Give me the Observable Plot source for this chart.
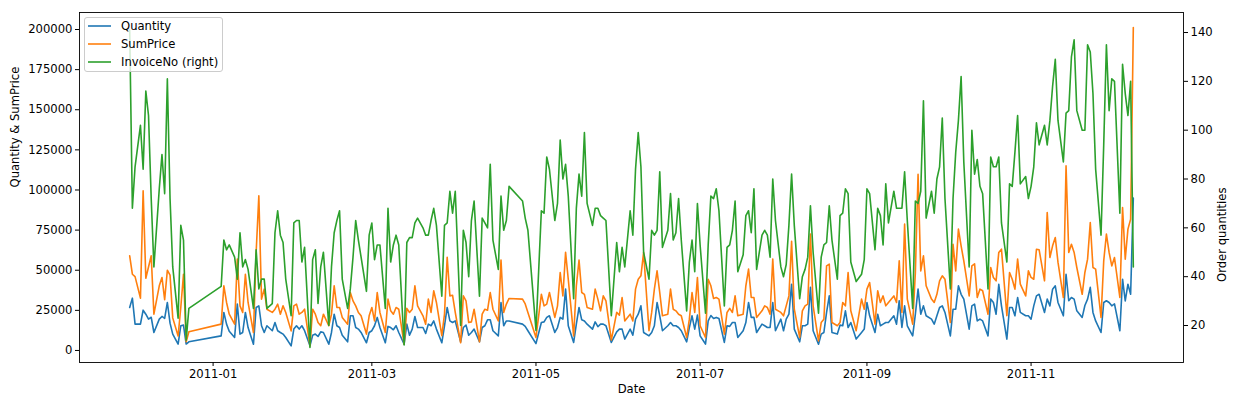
<!DOCTYPE html>
<html><head><meta charset="utf-8">
<script src="https://cdn.jsdelivr.net/npm/d3@7"></script>
<script src="https://cdn.jsdelivr.net/npm/@observablehq/plot@0.6"></script>
<style>
html,body{margin:0;padding:0;background:#fff;}
#chart svg{display:block;}
</style></head><body><div id="chart"></div>
<script>
// Trading days (categories)
const tradingDays = [
  ["2010-12",[1,2,3,5,6,7,8,9,10,12,13,14,15,16,17,19,20,21,22,23]],
  ["2011-01",[4,5,6,7,9,10,11,12,13,14,16,17,18,19,20,21,23,24,25,26,27,28,30,31]],
  ["2011-02",[1,2,3,4,6,7,8,9,10,11,13,14,15,16,17,18,20,21,22,23,24,25,27,28]],
  ["2011-03",[1,2,3,4,6,7,8,9,10,11,13,14,15,16,17,18,20,21,22,23,24,25,27,28,29,30,31]],
  ["2011-04",[1,3,4,5,6,7,8,10,11,12,13,14,15,17,18,19,20,21,26,27,28]],
  ["2011-05",[1,3,4,5,6,8,9,10,11,12,13,15,16,17,18,19,20,22,23,24,25,26,27,29,31]],
  ["2011-06",[1,2,3,5,6,7,8,9,10,12,13,14,15,16,17,19,20,21,22,23,24,26,27,28,29,30]],
  ["2011-07",[1,3,4,5,6,7,8,10,11,12,13,14,15,17,18,19,20,21,22,24,25,26,27,28,29,31]],
  ["2011-08",[1,2,3,4,5,7,8,9,10,11,12,14,15,16,17,18,19,21,22,23,24,25,26,28,30,31]],
  ["2011-09",[1,2,4,5,6,7,8,9,11,12,13,14,15,16,18,19,20,21,22,23,25,26,27,28,29,30]],
  ["2011-10",[2,3,4,5,6,7,9,10,11,12,13,14,16,17,18,19,20,21,23,24,25,26,27,28,30,31]],
  ["2011-11",[1,2,3,4,6,7,8,9,10,11,13,14,15,16,17,18,20,21,22,23,24,25,27,28,29,30]],
  ["2011-12",[1,2,4,5,6,7,8,9]]
];

const quantity = [
26800,32600,16400,16400,25100,22600,19500,20700,11200,19500,21200,20000,29900,17000,10200,4000,15400,15800,4000,5400,
9100,23700,16400,12000,8100,28900,10200,11200,23700,14300,3900,26800,27800,15400,11200,15400,12300,17400,12300,11200,10200,8100,2900,13300,
15400,13300,15400,12300,2900,9500,10200,8700,11600,11200,3900,11200,22600,15400,14300,9500,5400,21600,21600,14300,13300,11200,4800,11200,
12300,15400,20600,14300,4800,15000,14300,12900,15400,11200,3900,16400,9500,13300,21200,14300,14300,10600,16400,15400,18400,13300,4800,15400,26800,18400,17400,
18400,5400,14300,15800,9500,11200,13300,5400,14300,15400,19100,19100,12300,9100,29900,15400,18400,18400,16400,15000,12300,
4300,17400,17800,20600,21600,11200,14300,20600,19500,38200,15400,5000,16400,26800,19100,18400,16400,13300,17800,14800,16400,16400,15400,5000,11600,
13300,13300,7100,13300,9500,19500,22600,27800,11200,9100,11200,15400,29900,21600,12300,15400,17400,15400,15400,14300,12300,5400,14300,21600,13300,22000,
9100,4000,18400,21800,19900,20600,19900,5000,15400,15000,17400,17400,8100,12300,17400,29900,20600,20600,11200,16400,15400,14300,14300,29900,12300,19500,
12300,19500,22600,41300,13300,5400,15400,15400,16400,39300,12300,3900,10200,11200,23700,34000,11200,10200,15800,15400,24700,14300,17400,7100,11200,13300,
29900,21600,11200,22600,15400,16400,17400,17400,21600,16400,31000,14300,27800,15400,9100,22600,38200,22600,27800,21600,19500,16400,21600,26800,27800,23700,
9100,25700,25700,40300,35000,32000,13300,27800,28900,18400,19500,18400,9100,32000,29900,22600,41200,27800,7100,26800,26800,21600,33000,23700,21600,21600,
19500,27800,34000,35000,23700,32000,27800,38200,40300,29900,21600,47500,31000,33000,32000,24700,20600,28000,32000,39300,23700,18400,11200,29900,31000,29900,
27800,29000,12300,44400,30900,41300,35000,94900];

const sumPrice = [
59000,47500,46000,32600,99500,45000,52000,59000,22600,40300,45500,31700,50000,47000,20300,9000,26900,47500,5400,11700,
16400,40300,29900,22600,16400,56900,27800,23700,47500,29900,11200,61000,96400,32000,38200,25700,23700,25700,28900,22600,27800,23700,12200,27800,
28900,22600,23700,25700,2900,25700,22600,17400,15400,22600,15400,22600,40300,26800,26800,20600,16400,36100,30900,27800,23700,21600,10200,21600,
26800,18400,36100,23700,11200,32000,24700,22600,26800,25700,3900,26200,23700,25700,40300,27800,21600,16400,32000,23700,37200,29900,9200,22600,58000,34000,34400,
23700,4800,34000,30900,17400,17800,25700,5400,22600,25700,25100,36100,25700,18400,56300,23700,28900,32400,32000,29000,23700,
8100,35000,27800,28900,36100,20600,27800,48600,34000,61100,44400,9100,40300,56300,36100,35000,26800,25700,38200,32000,24700,34000,30900,6500,23700,
22000,33000,18400,22600,18400,38200,44400,46500,61100,12300,23700,38200,49600,36100,21600,22600,38200,25700,24700,22600,21600,8100,19500,36100,23700,45500,
15400,8100,44400,40300,32400,33000,32000,10200,23700,26200,23700,34000,21600,22600,40300,50700,33000,33000,20600,24700,27800,26800,22600,56900,25700,23700,
21600,27800,34000,68000,25700,8100,24700,27800,28900,72500,27800,6000,17400,19500,52700,53800,17400,15400,17400,29900,27800,48600,24700,12300,32000,25700,
38200,42300,16400,37200,29900,34000,27800,29900,34000,29900,55800,23700,78700,32000,16400,48600,109800,49600,59000,40300,32000,29900,35000,43400,46500,44400,
17400,66200,49600,75600,65200,55800,34000,52700,54000,33000,38200,37200,22600,51700,45500,43400,61100,63100,21600,48600,44400,38200,56900,41300,34000,49600,
45500,44400,63100,62700,43400,86000,57900,65200,70400,55000,33000,115000,61100,66200,61100,51700,35000,48600,56900,79700,51700,50700,20600,55800,72500,61100,
52700,57900,33000,89100,56900,75600,81800,201200];

const invoiceNo = [
141,68,85,102,84,116,106,72,44,76,90,74,121,72,44,23,61,55,14,27,
36,55,51,53,48,39,58,44,47,43,27,51,35,39,39,27,29,58,67,57,54,39,24,62,
63,63,46,52,11,47,51,29,44,50,20,44,58,63,67,39,27,35,48,63,55,48,34,57,
62,47,53,53,27,68,46,53,57,53,12,54,56,56,62,64,60,57,57,63,68,61,32,61,62,75,66,
75,20,59,54,40,63,71,32,64,62,60,86,55,43,73,59,63,77,71,64,59,
18,67,66,89,84,63,70,96,80,86,73,31,68,82,73,99,70,61,68,68,65,64,63,24,54,
42,52,44,67,57,84,99,85,50,39,59,57,59,83,52,59,74,55,58,72,55,26,46,55,42,70,
53,25,53,73,72,76,67,28,52,53,59,71,42,49,65,67,58,76,43,57,59,57,48,80,63,44,
40,45,61,82,61,31,40,43,48,69,50,25,48,53,54,69,55,39,65,66,76,74,46,38,41,47,
76,74,51,68,65,53,78,62,75,68,68,68,83,63,27,71,70,75,112,64,75,66,80,85,105,72,
35,72,91,104,122,87,44,100,82,88,77,74,35,89,85,85,89,62,46,78,77,91,106,78,81,72,
77,85,103,94,102,94,104,118,129,104,87,107,108,130,137,108,100,100,135,132,115,84,57,94,135,108,
121,120,66,127,115,106,120,44];

const leftTicks = [0,25000,50000,75000,100000,125000,150000,175000,200000];
const rightTicks = [20,40,60,80,100,120,140];
const xTickLabels = ["2011-01","2011-03","2011-05","2011-07","2011-09","2011-11"];
const seriesNames = ["Quantity","SumPrice","InvoiceNo (right)"];
const seriesColors = ["#1f77b4","#ff7f0e","#2ca02c"];
const leftTitle = "Quantity & SumPrice";
const rightTitle = "Order quantities";
const xTitle = "Date";

const dates = tradingDays.flatMap(([m, ds]) => ds.map(d => new Date(`${m}-${String(d).padStart(2,"0")}T00:00:00Z`)));
const rows = dates.map((date, i) => ({date, q: quantity[i], s: sumPrice[i], n: invoiceNo[i]}));

const L = [-7500, 210600];
const R = [4.85, 148.2];
const toL = r => L[0] + (r - R[0]) * (L[1] - L[0]) / (R[1] - R[0]);
const toR = l => R[0] + (l - L[0]) * (R[1] - R[0]) / (L[1] - L[0]);

const FS = 11.6;
const lw = 1.6;

const svg = Plot.plot({
  width: 1235, height: 406,
  marginLeft: 79, marginRight: 52, marginTop: 12, marginBottom: 44,
  style: {fontFamily: "'DejaVu Sans', sans-serif", fontSize: FS + "px", color: "#000", background: "#fff", overflow: "visible"},
  x: {type: "utc", domain: [new Date("2010-11-12T08:24:00Z"), new Date("2011-12-27T15:36:00Z")]},
  y: {domain: L},
  marks: [
    Plot.lineY(rows, {x: "date", y: "q", stroke: seriesColors[0], strokeWidth: lw}),
    Plot.lineY(rows, {x: "date", y: "s", stroke: seriesColors[1], strokeWidth: lw}),
    Plot.lineY(rows, {x: "date", y: d => toL(d.n), stroke: seriesColors[2], strokeWidth: lw}),
    Plot.frame({stroke: "#000", strokeWidth: 0.9}),
    Plot.axisX({ticks: xTickLabels.map(t => new Date(t + "-01T00:00:00Z")), tickSize: 4, tickPadding: 3, tickFormat: d3.utcFormat("%Y-%m"), label: null, fontSize: FS}),
    Plot.axisY({anchor: "left", ticks: leftTicks, tickSize: 4, tickPadding: 3, tickFormat: d3.format("d"), label: null, fontSize: FS}),
    Plot.axisY({anchor: "right", ticks: rightTicks.map(toL), tickSize: 4, tickPadding: 3, tickFormat: v => String(Math.round(toR(v))), label: null, fontSize: FS}),
    Plot.text([xTitle], {text: d => d, frameAnchor: "bottom", dy: 30, fontSize: FS, fill: "#000"}),
    Plot.text([leftTitle], {text: d => d, frameAnchor: "left", dx: -64, rotate: -90, fontSize: FS, fill: "#000"}),
    Plot.text([rightTitle], {text: d => d, frameAnchor: "right", dx: 39, rotate: -90, fontSize: FS, fill: "#000"})
  ]
});

// Legend (matplotlib style, upper left)
const g = d3.select(svg).append("g")
  .attr("font-family", "'DejaVu Sans', sans-serif")
  .attr("font-size", FS)
  .attr("text-anchor", "start");
g.append("rect").attr("x", 84.5).attr("y", 17.5).attr("width", 138).attr("height", 54)
  .attr("rx", 2.5).attr("fill", "#ffffff").attr("fill-opacity", 0.8)
  .attr("stroke", "#cccccc").attr("stroke-width", 1);
seriesNames.forEach((name, i) => {
  const cy = 26 + i * 18;
  g.append("line").attr("x1", 88).attr("x2", 111).attr("y1", cy).attr("y2", cy)
    .attr("stroke", seriesColors[i]).attr("stroke-width", lw);
  g.append("text").attr("x", 121).attr("y", cy).attr("dy", "0.35em")
    .attr("text-anchor", "start").attr("fill", "#000").text(name);
});

document.getElementById("chart").appendChild(svg);
</script>
</body></html>
